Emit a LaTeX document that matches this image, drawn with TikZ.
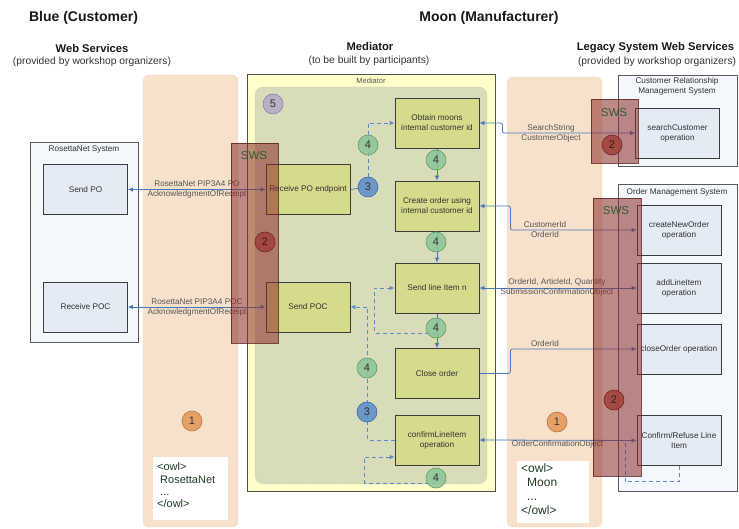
\documentclass[tikz,border=0pt]{standalone}
\usepackage{fontspec}
\setmainfont{Liberation Sans}
\usetikzlibrary{arrows.meta,calc}
\pgfdeclarelayer{back}
\pgfdeclarelayer{mid}
\pgfdeclarelayer{front}
\pgfsetlayers{back,mid,main,front}
\definecolor{peach}{HTML}{F7E1CB}
\definecolor{peachd}{HTML}{D8C2AA}
\definecolor{medyel}{HTML}{FFFFCC}
\definecolor{medbord}{HTML}{505050}
\definecolor{medgrn}{HTML}{D9DCB9}
\definecolor{medgrnd}{HTML}{C2C6A2}
\definecolor{medbx}{HTML}{D6DA8B}
\definecolor{bordc}{HTML}{3C3C3C}
\definecolor{sysfill}{HTML}{F4F7FB}
\definecolor{sysd}{HTML}{5A5A5A}
\definecolor{opblue}{HTML}{E4EBF5}
\definecolor{arrowc}{HTML}{4A76C0}
\definecolor{dashc}{HTML}{5B8AD0}
\definecolor{lblc}{HTML}{555555}
\definecolor{txt}{HTML}{333333}
\definecolor{grn}{HTML}{8CC497}
\definecolor{grnd}{HTML}{5E9E6C}
\definecolor{blu}{HTML}{5B8CCB}
\definecolor{blud}{HTML}{3C6BA8}
\definecolor{org}{HTML}{E49656}
\definecolor{orgd}{HTML}{B8743C}
\definecolor{pur}{HTML}{B6A8CA}
\definecolor{purd}{HTML}{8E80A8}
\definecolor{redc}{HTML}{A2433D}
\definecolor{redd}{HTML}{6B2724}
\definecolor{swsc}{HTML}{8A2A28}
\definecolor{swsd}{HTML}{5A2020}
\definecolor{swst}{HTML}{2E5E30}
\definecolor{owlt}{HTML}{1F3A22}
\newcommand{\fsml}{\fontsize{8.2}{10}\selectfont}
\begin{document}
\begin{tikzpicture}[x=1pt,y=-1pt,
  medbox/.style={draw=bordc, fill=medbx, line width=0.8pt, minimum width=84pt, minimum height=50pt, align=center, inner sep=1pt, font=\fsml, text=txt},
  opbox/.style={draw=bordc, fill=opblue, line width=0.8pt, minimum width=84pt, minimum height=50pt, align=center, inner sep=1pt, font=\fsml, text=txt},
  sysc/.style={draw=sysd, fill=sysfill, line width=0.8pt},
  peachcol/.style={fill=peach, draw=peachd, densely dotted, rounded corners=6pt},
  num/.style={circle, minimum size=20pt, inner sep=0pt, font=\fontsize{11}{11}\selectfont, line width=0.6pt, text=txt, fill opacity=0.85, text opacity=1},
  g4/.style={num, fill=grn, draw=grnd},
  b3/.style={num, fill=blu, draw=blud},
  o1/.style={num, fill=org, draw=orgd},
  r2/.style={num, fill=redc, draw=redd, text=redd!60!black, fill opacity=0.9},
  p5/.style={num, fill=pur, draw=purd},
  conn/.style={draw=arrowc, line width=0.8pt},
  biarrow/.style={conn, {Latex[length=5pt,width=4.5pt]}-{Latex[length=5pt,width=4.5pt]}},
  onearrow/.style={conn, -{Latex[length=5pt,width=4.5pt]}},
  dasharrow/.style={draw=dashc, line width=0.9pt, dash pattern=on 4pt off 3pt, -{Latex[length=5pt,width=4.5pt]}},
  dashline/.style={draw=dashc, line width=0.9pt, dash pattern=on 4pt off 3pt},
  lbl/.style={font=\fsml, text=lblc, align=center, inner sep=0pt},
  swsbox/.style={fill=swsc, fill opacity=0.55, draw=swsd, draw opacity=0.8, line width=0.6pt},
  swslbl/.style={font=\fontsize{11.5}{12}\selectfont, text=swst, inner sep=0pt},
  title/.style={font=\bfseries\fontsize{14}{16}\selectfont, text=black!90},
  head/.style={font=\bfseries\fontsize{11.2}{13}\selectfont, text=black!90},
  sub/.style={font=\fontsize{10.3}{12}\selectfont, text=black!80}
]
\useasboundingbox (0,0) rectangle (739,529);

\begin{pgfonlayer}{back}
  \fill[white] (0,0) rectangle (739,529);
  \draw[peachcol] (143,75) rectangle (238,527);
  \draw[peachcol] (507,77) rectangle (602,527);
  \draw[fill=medyel, draw=medbord, line width=0.9pt] (247,74) rectangle (495,491);
  \node[font=\fontsize{7.5}{8}\selectfont, text=lblc] (medlbl) at (371,81) {Mediator};
  \draw[fill=medgrn, draw=medgrnd, densely dotted, rounded corners=8pt] (255,87) rectangle (487,484);
  \draw[sysc] (30,142) rectangle (138,342);
  \node[font=\fsml, text=txt] (rnlbl) at (84,149.5) {RosettaNet System};
  \draw[sysc] (618,75) rectangle (737,166);
  \node[font=\fsml, text=txt, align=center, inner sep=0pt] (crmlbl) at (677,86.5) {Customer Relationship\\[-0.5pt]Management System};
  \draw[sysc] (618,184) rectangle (737,491);
  \node[font=\fsml, text=txt] (omslbl) at (677,192) {Order Management System};
  \fill[white] (153,457) rectangle (228,520);
  \fill[white] (517,461) rectangle (589,523);
  \node[anchor=north west, align=left, inner sep=0pt, font=\fontsize{11}{12.4}\selectfont, text=owlt] (owlL) at (157,462.5)
    {\textless owl\textgreater\\\hspace*{3pt}RosettaNet\\\hspace*{3pt}...\\\textless /owl\textgreater};
  \node[anchor=north west, align=left, inner sep=0pt, font=\fontsize{12}{14}\selectfont, text=owlt] (owlR) at (521,464)
    {\textless owl\textgreater\\\hspace*{6pt}Moon\\\hspace*{6pt}...\\\textless /owl\textgreater};
\end{pgfonlayer}

% headings
\node[title] (tBlue) at (83.5,18) {Blue (Customer)};
\node[title] (tMoon) at (489,18) {Moon (Manufacturer)};
\node[head] (hWS) at (92,48) {Web Services};
\node[sub] (sWS) at (92,62) {(provided by workshop organizers)};
\node[head] (hMed) at (370,47) {Mediator};
\node[sub] (sMed) at (369,61) {(to be built by participants)};
\node[head] (hLeg) at (655.5,48) {Legacy System Web Services};
\node[sub] (sLeg) at (657,62) {(provided by workshop organizers)};

% RosettaNet boxes
\node[opbox] (sendpo) at (85.5,189.5) {Send PO};
\node[opbox] (recpoc) at (85.5,307) {Receive POC};

% Mediator boxes
\node[medbox] (recpo) at (308,189.5) {Receive PO endpoint};
\node[medbox] (sendpoc) at (308,307) {Send POC};
\node[medbox] (obtain) at (437,123) {Obtain moons\\internal customer id};
\node[medbox] (create) at (437,206) {Create order using\\internal customer id};
\node[medbox] (sendli) at (437,288) {Send line Item n};
\node[medbox] (close) at (437,373.5) {Close order};
\node[medbox] (cli) at (437,440) {confirmLineItem\\operation};

% legacy operation boxes
\node[opbox] (search) at (677.5,133) {searchCustomer\\operation};
\node[opbox] (cno) at (679,230) {createNewOrder\\operation};
\node[opbox] (ali) at (679,288) {addLineItem\\operation};
\node[opbox] (co) at (679,349) {closeOrder operation};
\node[opbox] (cr) at (679,440.5) {Confirm/Refuse Line\\Item};

% circles
\node[p5] (c5) at (273,104) {5};
\node[g4] (g1) at (368,145) {4};
\node[b3] (b1) at (368,187) {3};
\node[g4] (g2) at (436,160) {4};
\node[g4] (g3) at (436,242) {4};
\node[g4] (g4n) at (436,328) {4};
\node[g4] (g5) at (367,368) {4};
\node[b3] (b2) at (367,412) {3};
\node[g4] (g6) at (436,478) {4};
\node[o1] (o1L) at (192,421) {1};
\node[o1] (o1R) at (557,422) {1};

\coordinate (jSL) at (436,333);
\coordinate (jCL) at (436,483);
\coordinate (jCR) at (625,440.5);

\begin{pgfonlayer}{mid}
  % customer side
  \draw[biarrow] (sendpo.east) -- (recpo.west);
  \draw[biarrow] (recpoc.east) -- (sendpoc.west);
  % legacy side
  \draw[biarrow, rounded corners=2pt] (obtain.east) -- ++(23,0) |- (search.west);
  \draw[biarrow, rounded corners=2pt] (create.east) -- ++(31,0) |- (cno.west);
  \draw[biarrow] (sendli.east) -- (ali.west);
  \draw[onearrow, rounded corners=2pt] (close.east) -- ++(31,0) |- (co.west);
  \draw[biarrow] (cli.east) -- (cr.west);
  \draw[dashline] (cr.south) -- ++(0,16) -| (jCR);
  % mediator flow
  \draw[conn] (recpo.east) -- (b1);
  \draw[dasharrow] (b1) |- (obtain.west);
  \draw[onearrow] (obtain.south) -- (create.north);
  \draw[onearrow] (create.south) -- (sendli.north);
  \draw[onearrow] (sendli.south) -- (close.north);
  \draw[dasharrow] (jSL) -| ($(sendli.west)+(-20,0)$) -- (sendli.west);
  \draw[dasharrow] (cli.west) -| ($(sendpoc.east)+(17,0)$) -- (sendpoc.east);
  \draw[dasharrow] (jCL) -| ($(cli.west)+(-30,17)$) -- ($(cli.west)+(0,17)$);
\end{pgfonlayer}

% connector labels
\node[lbl] (lPO) at (197,189.5) {RosettaNet PIP3A4 PO\\AcknowledgmentOfReceipt};
\node[lbl] (lPOC) at (197,307) {RosettaNet PIP3A4 POC\\AcknowledgmentOfReceipt};
\node[lbl] (lSS) at (551,133) {SearchString\\CustomerObject};
\node[lbl] (lCI) at (545,230) {CustomerId\\OrderId};
\node[lbl] (lOA) at (557,287) {OrderId, ArticleId, Quantity\\SubmissionConfirmationObject};
\node[lbl] (lOI) at (545,344) {OrderId};
\node[lbl] (lOC) at (557.5,444.5) {OrderConfirmationObject};

\begin{pgfonlayer}{front}
  \draw[swsbox] (231,143) rectangle (278,343);
  \draw[swsbox] (591,99) rectangle (638,163);
  \draw[swsbox] (593,198) rectangle (641,476);
  \node[r2] (r2L) at (265,242) {2};
  \node[r2] (r2T) at (612,145) {2};
  \node[r2] (r2B) at (614,400) {2};
  \node[swslbl] (swsL) at (254,156) {SWS};
  \node[swslbl] (swsT) at (614,113) {SWS};
  \node[swslbl] (swsB) at (616,211) {SWS};
\end{pgfonlayer}
\end{tikzpicture}
\end{document}
